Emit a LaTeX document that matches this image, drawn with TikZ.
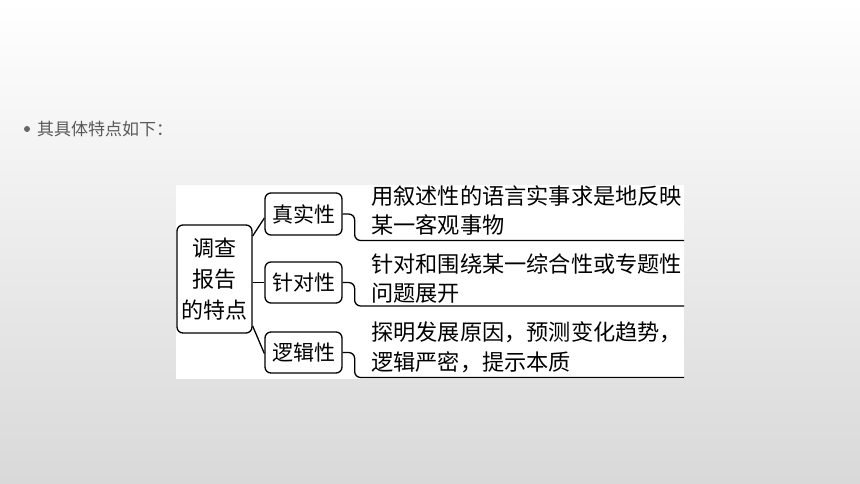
\documentclass[tikz,border=0pt]{standalone}
\usepackage{fontspec}
\setmainfont{Noto Sans CJK SC}
\begin{document}
\begin{tikzpicture}[x=1pt,y=-1pt,
  box/.style={draw=black,line width=1.3pt,rounded corners=6pt,fill=white,inner sep=0pt,align=center,font=\fontsize{21}{31}\selectfont},
  conn/.style={draw=black,line width=1.3pt},
  desc/.style={anchor=west,inner sep=0pt,font=\fontsize{22.2}{25}\selectfont},
  intro/.style={anchor=west,inner sep=0pt,text=black!65,font=\fontsize{17}{18}\selectfont}]
\useasboundingbox (0,0) rectangle (860,484);
\shade[top color=white,bottom color=black!15] (0,0) rectangle (860,484);
% bullet line
\fill[black!60] (27,129) circle (3);
\node[intro] (intro) at (37,129) {其具体特点如下：};
% white panel
\fill[white] (176,185) rectangle (684,379);
% boxes
\node[box,minimum width=75pt,minimum height=108pt,font=\fontsize{22}{31}\selectfont] (root) at (214.5,279) {调查\\报告\\的特点};
\node[box,minimum width=77pt,minimum height=42pt] (c1) at (303.5,214) {真实性};
\node[box,minimum width=77pt,minimum height=41pt] (c2) at (303.5,282.5) {针对性};
\node[box,minimum width=77pt,minimum height=41pt] (c3) at (303.5,352.5) {逻辑性};
% root connectors
\draw[conn] ([yshift=43pt]root.east) -- ([yshift=-4pt]c1.west);
\draw[conn] ([yshift=-3.5pt]root.east) -- (c2.west);
\draw[conn] ([yshift=-47pt]root.east) -- ([yshift=-1pt]c3.west);
% right edge coordinates
\coordinate (e1) at (684,240.5);
\coordinate (e2) at (684,306);
\coordinate (e3) at (684,377.5);
\draw[conn,rounded corners=6pt] (c1.east) -- ++(12,0) |- (e1);
\draw[conn,rounded corners=6pt] (c2.east) -- ++(12,0) |- (e2);
\draw[conn,rounded corners=6pt] (c3.east) -- ++(12,0) |- (e3);
% descriptions
\node[desc] (t1a) at (371,196) {用叙述性的语言实事求是地反映};
\node[desc] (t1b) at (371,225) {某一客观事物};
\node[desc] (t2a) at (371,264) {针对和围绕某一综合性或专题性};
\node[desc] (t2b) at (371,293) {问题展开};
\node[desc] (t3a) at (371,332) {探明发展原因，预测变化趋势，};
\node[desc] (t3b) at (371,362) {逻辑严密，提示本质};
\end{tikzpicture}
\end{document}
